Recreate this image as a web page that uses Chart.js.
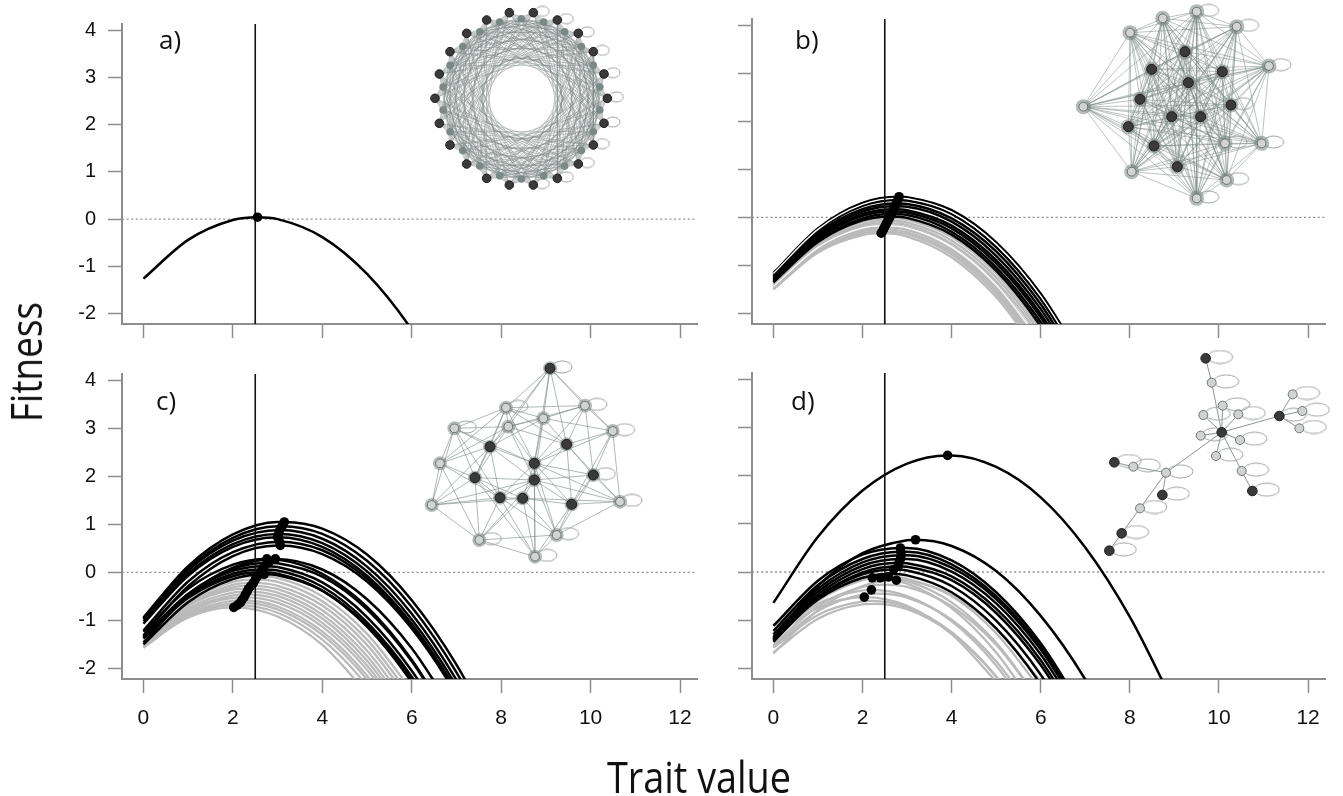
<!DOCTYPE html>
<html>
<head>
<meta charset="utf-8">
<title>Fitness vs trait value</title>
<script src="https://cdn.jsdelivr.net/npm/chart.js@4/dist/chart.umd.min.js"></script>
<style>
  html, body { margin:0; padding:0; background:#ffffff; }
  body { position:relative; width:1343px; height:796px; overflow:hidden; }
  canvas { position:absolute; display:block; }
  .txt { position:absolute; font-family:"Open Sans","DejaVu Sans",sans-serif; color:#111; white-space:nowrap; line-height:normal; }
</style>
</head>
<body>
<canvas id="pa" width="712" height="350" style="left:0px;top:0px"></canvas>
<canvas id="pb" width="631" height="350" style="left:712px;top:0px"></canvas>
<canvas id="pc" width="712" height="400" style="left:0px;top:350px"></canvas>
<canvas id="pd" width="631" height="400" style="left:712px;top:350px"></canvas>
<canvas id="na" width="210" height="200" style="left:420px;top:0px"></canvas>
<canvas id="nb" width="240" height="210" style="left:1070px;top:0px"></canvas>
<canvas id="nc" width="240" height="210" style="left:420px;top:355px"></canvas>
<canvas id="nd" width="253" height="220" style="left:1090px;top:345px"></canvas>

<div class="txt" style="left:159px;top:21px;font-size:26px">a)</div>
<div class="txt" style="left:795px;top:21px;font-size:26px">b)</div>
<div class="txt" style="left:156px;top:382px;font-size:26px">c)</div>
<div class="txt" style="left:791px;top:382px;font-size:26px">d)</div>
<div class="txt" style="left:25px;top:362px;font-size:44px;transform:translate(-50%,-50%) rotate(-90deg) scaleX(0.84)">Fitness</div>
<div class="txt" style="left:699px;top:746px;font-size:44px;transform:translateX(-50%) scaleX(0.86)">Trait value</div>

<script>
// ---------------- axis values ----------------
const xGrid = [0, 1, 2, 3, 4, 5, 6, 7, 8, 9];
const xTicks = [0, 2, 4, 6, 8, 10, 12];
const yTicks = [-2, -1, 0, 1, 2, 3, 4];
const traitRange = [-0.48, 12.38];
const fitnessRange = [-2.22, 4.13];
const refTrait = 2.5;
const refFitness = 0;

// ---------------- panel a ----------------
const aPeakX = [2.55];
const aPeakY = [0.04];
const aCurves = [[-1.26, -0.44, -0.02, 0.00, -0.38, -1.16, -2.34, -3.92]];

// ---------------- panel b ----------------
const bBlackPeakX = [2.82, 2.79, 2.76, 2.73, 2.70, 2.68, 2.65, 2.62];
const bBlackPeakY = [0.43, 0.36, 0.29, 0.23, 0.17, 0.12, 0.07, 0.02];
const bBlackCurves = [
  [-1.16, -0.23, 0.30, 0.42, 0.15, -0.52, -1.59, -3.07],
  [-1.20, -0.28, 0.24, 0.35, 0.07, -0.62, -1.70, -3.19],
  [-1.23, -0.33, 0.17, 0.28, -0.02, -0.71, -1.81, -3.31],
  [-1.26, -0.37, 0.12, 0.22, -0.09, -0.80, -1.91, -3.42],
  [-1.29, -0.41, 0.07, 0.15, -0.17, -0.89, -2.01, -3.53],
  [-1.32, -0.44, 0.03, 0.10, -0.23, -0.96, -2.08, -3.61],
  [-1.34, -0.48, -0.02, 0.05, -0.30, -1.04, -2.18, -3.72],
  [-1.35, -0.51, -0.06, -0.01, -0.36, -1.11, -2.27, -3.82]
];
const bWhiteTopPeakX = [2.805];
const bWhiteTopPeakY = [0.40];
const bWhiteTopCurves = [[-1.17, -0.25, 0.27, 0.39, 0.11, -0.56, -1.64, -3.12]];
const bWhiteLowPeakX = [2.52];
const bWhiteLowPeakY = [-0.17];
const bWhiteLowCurves = [[-1.44, -0.63, -0.22, -0.22, -0.61, -1.40, -2.59]];
const bGrayPeakX = [2.60, 2.57, 2.54, 2.52, 2.49, 2.47, 2.45, 2.42];
const bGrayPeakY = [-0.02, -0.07, -0.12, -0.16, -0.21, -0.25, -0.29, -0.33];
const bGrayCurves = [
  [-1.37, -0.53, -0.09, -0.05, -0.41, -1.17, -2.33, -3.89],
  [-1.39, -0.56, -0.14, -0.11, -0.48, -1.25, -2.42, -4.00],
  [-1.41, -0.59, -0.18, -0.16, -0.55, -1.33, -2.51, -4.10],
  [-1.43, -0.62, -0.21, -0.21, -0.60, -1.39, -2.58],
  [-1.45, -0.65, -0.26, -0.26, -0.67, -1.47, -2.67],
  [-1.47, -0.68, -0.29, -0.31, -0.72, -1.53, -2.74],
  [-1.49, -0.71, -0.33, -0.35, -0.77, -1.59, -2.81],
  [-1.50, -0.73, -0.37, -0.40, -0.83, -1.66, -2.89]
];

// ---------------- panel c ----------------
const cBlackPeakX = [3.15, 3.10, 3.05, 3.02, 3.00, 3.04, 3.06, 2.95, 2.76, 2.80, 2.70, 2.66, 2.62, 2.70];
const cBlackPeakY = [1.05, 0.96, 0.88, 0.80, 0.73, 0.64, 0.56, 0.28, 0.28, 0.20, 0.13, 0.06, 0.00, -0.04];
const cBlackCurves = [
  [-0.94, 0.13, 0.79, 1.05, 0.91, 0.37, -0.58, -1.92, -3.66],
  [-0.96, 0.08, 0.72, 0.96, 0.80, 0.24, -0.72, -2.08, -3.84],
  [-0.98, 0.04, 0.66, 0.88, 0.70, 0.12, -0.86, -2.24, -4.02],
  [-1.02, -0.02, 0.59, 0.80, 0.61, 0.02, -0.98, -2.37, -4.16],
  [-1.07, -0.07, 0.53, 0.73, 0.53, -0.07, -1.07, -2.47, -4.27],
  [-1.21, -0.19, 0.42, 0.64, 0.46, -0.13, -1.11, -2.50, -4.28],
  [-1.31, -0.29, 0.34, 0.56, 0.38, -0.19, -1.17, -2.55, -4.33],
  [-1.46, -0.48, 0.10, 0.28, 0.06, -0.56, -1.58, -3.00],
  [-1.24, -0.34, 0.16, 0.27, -0.03, -0.72, -1.82, -3.32],
  [-1.37, -0.45, 0.07, 0.19, -0.09, -0.77, -1.85, -3.33],
  [-1.33, -0.45, 0.03, 0.11, -0.21, -0.93, -2.05, -3.57],
  [-1.36, -0.49, -0.03, 0.04, -0.30, -1.04, -2.17, -3.71],
  [-1.37, -0.53, -0.08, -0.03, -0.38, -1.13, -2.29, -3.84],
  [-1.50, -0.62, -0.14, -0.06, -0.38, -1.10, -2.22, -3.74]
];
const cGrayPeakX = [2.55, 2.50, 2.46, 2.40, 2.35, 2.32, 2.28, 2.25, 2.20, 2.17, 2.10, 2.02];
const cGrayPeakY = [-0.08, -0.15, -0.22, -0.28, -0.34, -0.40, -0.46, -0.52, -0.58, -0.63, -0.68, -0.73];
const cGrayCurves = [
  [-1.38, -0.56, -0.14, -0.12, -0.50, -1.28, -2.46],
  [-1.40, -0.60, -0.20, -0.20, -0.60, -1.40, -2.60],
  [-1.43, -0.65, -0.26, -0.28, -0.69, -1.51, -2.73],
  [-1.43, -0.67, -0.31, -0.35, -0.79, -1.63, -2.87],
  [-1.44, -0.70, -0.36, -0.42, -0.88, -1.74, -3.00],
  [-1.48, -0.75, -0.42, -0.49, -0.96, -1.84, -3.11],
  [-1.50, -0.79, -0.48, -0.56, -1.05, -1.94, -3.23],
  [-1.53, -0.83, -0.53, -0.63, -1.13, -2.03, -3.33],
  [-1.55, -0.87, -0.59, -0.71, -1.23, -2.15, -3.47],
  [-1.57, -0.90, -0.64, -0.77, -1.30, -2.23, -3.56],
  [-1.56, -0.92, -0.68, -0.84, -1.40, -2.36, -3.72],
  [-1.55, -0.94, -0.73, -0.92, -1.51, -2.51]
];

// ---------------- panel d ----------------
const dBlackPeakX = [3.91, 3.19, 2.85, 2.86, 2.87, 2.85, 2.82, 2.80, 2.70, 2.62];
const dBlackPeakY = [2.42, 0.67, 0.50, 0.42, 0.35, 0.27, 0.19, 0.12, 0.05, -0.04];
const dBlackCurves = [
  [-0.64, 0.73, 1.69, 2.25, 2.42, 2.18, 1.55, 0.51, -0.93, -2.76],
  [-1.37, -0.29, 0.39, 0.66, 0.54, 0.02, -0.91, -2.23, -3.96],
  [-1.12, -0.18, 0.36, 0.50, 0.24, -0.42, -1.48, -2.94],
  [-1.22, -0.27, 0.27, 0.42, 0.16, -0.50, -1.55, -3.01],
  [-1.30, -0.35, 0.20, 0.35, 0.09, -0.56, -1.61, -3.06],
  [-1.35, -0.41, 0.13, 0.27, 0.01, -0.65, -1.71, -3.17],
  [-1.40, -0.47, 0.06, 0.18, -0.09, -0.76, -1.83, -3.31],
  [-1.45, -0.53, -0.01, 0.11, -0.17, -0.85, -1.93, -3.41],
  [-1.41, -0.53, -0.05, 0.03, -0.29, -1.01, -2.13, -3.65],
  [-1.41, -0.57, -0.12, -0.07, -0.42, -1.17, -2.33, -3.88]
];
const dGrayPeakX = [2.58, 2.40, 2.22, 2.76, 2.50, 2.20, 2.35, 2.04, 2.20, 2.25];
const dGrayPeakY = [-0.10, -0.12, -0.12, -0.17, -0.26, -0.37, -0.45, -0.52, -0.60, -0.66];
const dGrayCurves = [
  [-1.43, -0.60, -0.17, -0.14, -0.50, -1.27, -2.44],
  [-1.27, -0.51, -0.15, -0.19, -0.63, -1.47, -2.71],
  [-1.11, -0.42, -0.13, -0.24, -0.75, -1.67, -2.98],
  [-1.69, -0.79, -0.29, -0.18, -0.48, -1.17, -2.27],
  [-1.51, -0.71, -0.31, -0.31, -0.71, -1.51, -2.71],
  [-1.34, -0.66, -0.38, -0.50, -1.02, -1.94, -3.26],
  [-1.55, -0.81, -0.47, -0.53, -0.99, -1.85, -3.12],
  [-1.35, -0.74, -0.52, -0.70, -1.29, -2.27],
  [-1.57, -0.89, -0.61, -0.73, -1.25, -2.17, -3.49],
  [-1.67, -0.97, -0.67, -0.77, -1.27, -2.17, -3.47]
];
const dDotX = [3.91, 3.19, 2.85, 2.86, 2.87, 2.85, 2.82, 2.80, 2.70, 2.58, 2.40, 2.22, 2.76, 2.20, 2.04];
const dDotY = [2.42, 0.67, 0.50, 0.42, 0.35, 0.27, 0.19, 0.12, 0.05, -0.10, -0.12, -0.12, -0.17, -0.37, -0.52];

// ---------------- network insets (layout units of each inset) ----------------
const aRingX = [200, 268, 340, 412, 475, 520, 552, 562, 552, 520, 475, 412, 340, 268, 200, 140, 90, 58, 45, 58, 90, 140];
const aRingY = [60, 38, 38, 60, 100, 155, 222, 295, 370, 435, 492, 535, 555, 555, 535, 492, 435, 370, 295, 222, 155, 100];
const aRingSteps = [5, 7, 9, 11, 13, 15, 16];
const aLoopNodes = [2, 3, 4, 5, 6, 7, 8, 9, 10, 11, 12];

const bNodeX = [180, 278, 380, 500, 597, 40, 575, 465, 185, 470, 380, 345, 245, 457, 355, 210, 483, 305, 392, 175, 252, 322];
const bNodeY = [98, 55, 35, 80, 198, 320, 430, 430, 515, 540, 595, 155, 208, 215, 248, 298, 315, 350, 350, 380, 438, 500];
const bNodeDark = [0,0,0,0,0,0,0,0,0,0,0,1,1,1,1,1,1,1,1,1,1,1];
const bLoopNodes = [2, 3, 4, 6, 7, 9, 10, 16];

const cNodeX = [390, 210, 440, 343, 343, 165, 520, 240, 308, 455, 258, 495, 103, 265, 370, 578, 60, 35, 600, 178, 410, 345];
const cNodeY = [40, 275, 268, 325, 375, 368, 360, 428, 430, 448, 158, 152, 220, 215, 190, 228, 325, 450, 440, 555, 540, 605];
const cNodeDark = [1,1,1,1,1,1,1,1,1,1,0,0,0,0,0,0,0,0,0,0,0,0];
const cLoopNodes = [0, 10, 11, 15, 6, 18, 19, 20, 21, 12];
const cNeighbours = 8;

const dNodeX = [347, 365, 395, 398, 340, 445, 332, 450, 378, 455, 487, 568, 608, 637, 628, 228, 130, 73, 217, 150, 95, 58];
const dNodeY = [40, 113, 262, 182, 210, 208, 272, 285, 333, 378, 438, 213, 148, 198, 250, 383, 365, 352, 450, 490, 565, 617];
const dNodeDark = [1,0,1,0,0,0,0,0,0,0,1,1,0,0,0,0,0,1,1,0,1,1];
const dEdgeFrom = [0, 1, 3, 4, 5, 6, 7, 8, 2, 9, 2, 11, 11, 11, 2, 15, 16, 15, 15, 19, 20];
const dEdgeTo   = [1, 2, 2, 2, 2, 2, 2, 2, 9, 10, 11, 12, 13, 14, 15, 16, 17, 18, 19, 20, 21];
const dLoopNodes = [0, 1, 3, 4, 5, 6, 7, 8, 9, 10, 11, 12, 13, 14, 15, 16, 17, 18, 19, 20, 21];

// ---------------- helpers ----------------
const TICK_FONT = '"Liberation Sans", Arial, sans-serif';
const AXIS_GRAY = '#8d8d8d';

function curvePoints(px, py, vals) {
  const pts = [];
  vals.forEach((v, i) => { if (Math.abs(xGrid[i] - px) > 0.05) pts.push({ x: xGrid[i], y: v }); });
  pts.push({ x: px, y: py });
  pts.sort((p, q) => p.x - q.x);
  return pts;
}
function curveSets(px, py, curves, color, width, order) {
  return curves.map((vals, i) => ({
    type: 'line', data: curvePoints(px[i], py[i], vals),
    borderColor: color, borderWidth: width, pointRadius: 0, fill: false,
    cubicInterpolationMode: 'monotone', capBezierPoints: false, order: order
  }));
}
function dotSet(xs, ys) {
  return {
    type: 'scatter', data: xs.map((x, i) => ({ x: x, y: ys[i] })),
    pointRadius: 4.8, pointBackgroundColor: '#000', pointBorderColor: '#000',
    pointBorderWidth: 0, showLine: false, order: 1
  };
}

function buildPanel(id, cfg) {
  const ds = [];
  ds.push({ type: 'line', data: [{ x: traitRange[0], y: refFitness }, { x: traitRange[1], y: refFitness }],
    borderColor: '#8f8f8f', borderWidth: 1.3, borderDash: [2, 2.6], pointRadius: 0, order: 30 });
  (cfg.gray || []).forEach(g => ds.push(...curveSets(g[0], g[1], g[2], '#bababa', 2.3, 20)));
  (cfg.grayWhite || []).forEach(g => ds.push(...curveSets(g[0], g[1], g[2], '#ffffff', 1.3, 19)));
  (cfg.black || []).forEach(g => ds.push(...curveSets(g[0], g[1], g[2], '#000000', 2.5, 12)));
  (cfg.blackWhite || []).forEach(g => ds.push(...curveSets(g[0], g[1], g[2], '#ffffff', 1.3, 11)));
  ds.push({ type: 'line', data: [{ x: refTrait, y: fitnessRange[0] }, { x: refTrait, y: fitnessRange[1] }],
    borderColor: '#111', borderWidth: 1.6, pointRadius: 0, order: 5 });
  ds.push(dotSet(cfg.dots[0], cfg.dots[1]));

  new Chart(document.getElementById(id), {
    type: 'line',
    data: { datasets: ds },
    options: {
      responsive: false, animation: false, events: [],
      layout: { autoPadding: false, padding: { left: 0, top: cfg.top, right: cfg.right, bottom: 0 } },
      plugins: { legend: { display: false }, tooltip: { enabled: false } },
      scales: {
        x: {
          type: 'linear', position: 'bottom', min: traitRange[0], max: traitRange[1],
          afterBuildTicks: s => { s.ticks = xTicks.map(v => ({ value: v })); },
          afterFit: s => { s.height = cfg.xH; },
          ticks: { display: cfg.xLabels, color: '#111', font: { family: TICK_FONT, size: 21 }, padding: 13, maxRotation: 0, autoSkip: false },
          grid: { drawOnChartArea: false, drawTicks: true, tickLength: 14, tickColor: AXIS_GRAY, tickWidth: 1.5 },
          border: { display: true, color: AXIS_GRAY, width: 2 }
        },
        y: {
          type: 'linear', position: 'left', min: fitnessRange[0], max: fitnessRange[1],
          afterBuildTicks: s => { s.ticks = yTicks.map(v => ({ value: v })); },
          afterFit: s => { s.width = cfg.yW; },
          ticks: { display: cfg.yLabels, color: '#111', font: { family: TICK_FONT, size: 20 }, padding: 12, autoSkip: false },
          grid: { drawOnChartArea: false, drawTicks: true, tickLength: 14, tickColor: AXIS_GRAY, tickWidth: 1.5 },
          border: { display: true, color: AXIS_GRAY, width: 2 }
        }
      }
    }
  });
}

function loopImage(w, h) {
  const c = document.createElement('canvas');
  c.width = w + 2; c.height = h + 2;
  const g = c.getContext('2d');
  g.strokeStyle = '#9fa5a3'; g.lineWidth = 1;
  g.beginPath(); g.ellipse((w + 2) / 2, (h + 2) / 2, w / 2, h / 2, 0, 0, Math.PI * 2); g.stroke();
  return c;
}

function buildNetwork(id, cfg) {
  const ds = [];
  const edgeData = [];
  cfg.edges.forEach(e => {
    edgeData.push({ x: cfg.nx[e[0]], y: cfg.ny[e[0]] });
    edgeData.push({ x: cfg.nx[e[1]], y: cfg.ny[e[1]] });
    edgeData.push({ x: cfg.nx[e[1]], y: null });
  });
  ds.push({ type: 'line', data: edgeData, borderColor: cfg.edgeColor, borderWidth: cfg.edgeWidth,
    pointRadius: 0, spanGaps: false, tension: 0, order: 10 });
  const img = loopImage(cfg.loopW, cfg.loopH);
  ds.push({ type: 'scatter', data: cfg.loops.map(i => ({ x: cfg.nx[i] + 1.5 * cfg.loopW + 6, y: cfg.ny[i] - 4 })),
    pointStyle: img, pointRadius: 5, order: 8 });
  if (cfg.halo) {
    ds.push({ type: 'scatter', data: cfg.nx.map((x, i) => ({ x: x, y: cfg.ny[i] })),
      pointRadius: cfg.halo, pointBackgroundColor: 'rgba(118,132,128,0.55)', pointBorderWidth: 0, order: 7 });
  }
  const light = [], dark = [];
  cfg.nx.forEach((x, i) => { (cfg.dark[i] ? dark : light).push({ x: x, y: cfg.ny[i] }); });
  ds.push({ type: 'scatter', data: light, pointRadius: cfg.lightR, pointBackgroundColor: cfg.lightFill,
    pointBorderColor: cfg.lightBorder, pointBorderWidth: cfg.lightBorderW, order: 6 });
  ds.push({ type: 'scatter', data: dark, pointRadius: cfg.darkR, pointBackgroundColor: '#3a3a3a',
    pointBorderColor: '#1e1e1e', pointBorderWidth: 1, order: 5 });

  new Chart(document.getElementById(id), {
    type: 'line',
    data: { datasets: ds },
    options: {
      responsive: false, animation: false, events: [],
      layout: { autoPadding: false, padding: 0 },
      plugins: { legend: { display: false }, tooltip: { enabled: false } },
      scales: {
        x: { type: 'linear', display: false, min: 0, max: cfg.w },
        y: { type: 'linear', display: false, min: 0, max: cfg.h, reverse: true }
      }
    }
  });
}

// ---------------- panels ----------------
buildPanel('pa', { top: 19, right: 15, xH: 26, yW: 122, xLabels: false, yLabels: true,
  black: [[aPeakX, aPeakY, aCurves]], dots: [aPeakX, aPeakY] });

buildPanel('pb', { top: 19, right: 18, xH: 26, yW: 40, xLabels: false, yLabels: false,
  gray: [[bGrayPeakX, bGrayPeakY, bGrayCurves]],
  grayWhite: [[bWhiteLowPeakX, bWhiteLowPeakY, bWhiteLowCurves]],
  black: [[bBlackPeakX, bBlackPeakY, bBlackCurves]],
  blackWhite: [[bWhiteTopPeakX, bWhiteTopPeakY, bWhiteTopCurves]],
  dots: [bBlackPeakX.concat(bGrayPeakX), bBlackPeakY.concat(bGrayPeakY)] });

buildPanel('pc', { top: 23, right: 15, xH: 71, yW: 122, xLabels: true, yLabels: true,
  gray: [[cGrayPeakX, cGrayPeakY, cGrayCurves]],
  black: [[cBlackPeakX, cBlackPeakY, cBlackCurves]],
  dots: [cBlackPeakX.concat(cGrayPeakX), cBlackPeakY.concat(cGrayPeakY)] });

buildPanel('pd', { top: 23, right: 18, xH: 71, yW: 40, xLabels: true, yLabels: false,
  gray: [[dGrayPeakX, dGrayPeakY, dGrayCurves]],
  black: [[dBlackPeakX, dBlackPeakY, dBlackCurves]],
  dots: [dDotX, dDotY] });

// ---------------- network a: ring ----------------
(function () {
  const n = aRingX.length;
  const cx = aRingX.reduce((s, v) => s + v, 0) / n;
  const cy = aRingY.reduce((s, v) => s + v, 0) / n;
  const nx = [], ny = [], dark = [];
  for (let i = 0; i < n; i++) {
    nx.push(aRingX[i]); ny.push(aRingY[i]); dark.push(1);
    const j = (i + 1) % n;
    const mx = (aRingX[i] + aRingX[j]) / 2, my = (aRingY[i] + aRingY[j]) / 2;
    nx.push(cx + (mx - cx) * 0.93); ny.push(cy + (my - cy) * 0.93); dark.push(0);
  }
  const m = nx.length, edges = [];
  for (let i = 0; i < m; i++) {
    aRingSteps.forEach(k => { edges.push([i, (i + k) % m]); });
  }
  const loops = aLoopNodes.map(i => i * 2);
  buildNetwork('na', { w: 630, h: 600, nx: nx, ny: ny, dark: dark, edges: edges, loops: loops,
    edgeColor: 'rgba(128,140,137,0.6)', edgeWidth: 0.8, loopW: 14, loopH: 10,
    lightR: 3.8, lightFill: '#7b8986', lightBorder: '#6f7c79', lightBorderW: 0, darkR: 4.3, halo: 0 });
})();

// ---------------- network b: dense ----------------
(function () {
  const edges = [];
  for (let i = 0; i < bNodeX.length; i++) for (let j = i + 1; j < bNodeX.length; j++) edges.push([i, j]);
  buildNetwork('nb', { w: 720, h: 630, nx: bNodeX, ny: bNodeY, dark: bNodeDark, edges: edges, loops: bLoopNodes,
    edgeColor: 'rgba(118,134,129,0.55)', edgeWidth: 0.9, loopW: 20, loopH: 12,
    lightR: 4.4, lightFill: '#d2d4d3', lightBorder: '#6d7371', lightBorderW: 1, darkR: 5, halo: 7.5 });
})();

// ---------------- network c: nearest-neighbour ----------------
(function () {
  const seen = new Set(), edges = [];
  cNodeX.forEach((x, i) => {
    cNodeX.map((x2, j) => ({ j: j, d: (x2 - x) ** 2 + (cNodeY[j] - cNodeY[i]) ** 2 }))
      .filter(o => o.j !== i).sort((p, q) => p.d - q.d).slice(0, cNeighbours)
      .forEach(o => { const key = Math.min(i, o.j) + '-' + Math.max(i, o.j); if (!seen.has(key)) { seen.add(key); edges.push([i, o.j]); } });
  });
  buildNetwork('nc', { w: 720, h: 630, nx: cNodeX, ny: cNodeY, dark: cNodeDark, edges: edges, loops: cLoopNodes,
    edgeColor: 'rgba(118,134,129,0.65)', edgeWidth: 0.9, loopW: 20, loopH: 12,
    lightR: 4.4, lightFill: '#d2d4d3', lightBorder: '#6d7371', lightBorderW: 1, darkR: 5, halo: 7 });
})();

// ---------------- network d: tree ----------------
(function () {
  const edges = dEdgeFrom.map((f, i) => [f, dEdgeTo[i]]);
  buildNetwork('nd', { w: 759, h: 660, nx: dNodeX, ny: dNodeY, dark: dNodeDark, edges: edges, loops: dLoopNodes,
    edgeColor: 'rgba(128,138,134,0.9)', edgeWidth: 1, loopW: 25, loopH: 13,
    lightR: 4.5, lightFill: '#d2d4d3', lightBorder: '#6d7371', lightBorderW: 1, darkR: 4.8, halo: 0 });
})();
</script>
</body>
</html>
